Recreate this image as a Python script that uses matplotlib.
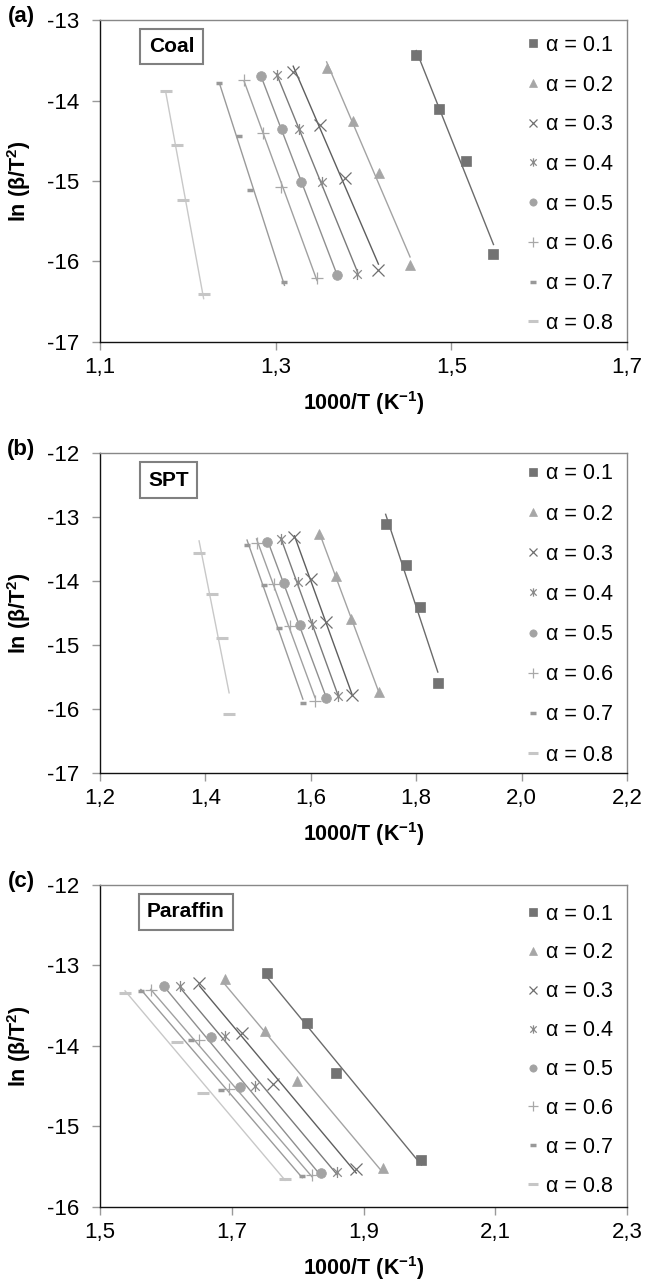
import matplotlib
matplotlib.use("Agg")
import matplotlib.pyplot as plt
import numpy as np
from matplotlib.path import Path
from matplotlib.lines import Line2D

plt.rcParams['font.family'] = ['Liberation Sans', 'DejaVu Sans']
plt.rcParams['axes.unicode_minus'] = False
plt.rcParams['mathtext.fontset'] = 'custom'
plt.rcParams['mathtext.rm'] = 'Liberation Sans'
plt.rcParams['mathtext.bf'] = 'Liberation Sans:bold'

##### DATA
alphas = ['0.1', '0.2', '0.3', '0.4', '0.5', '0.6', '0.7', '0.8']

# (a) coal
coal_x = [[1.460, 1.486, 1.517, 1.548],
          [1.358, 1.388, 1.418, 1.453],
          [1.320, 1.350, 1.379, 1.417],
          [1.301, 1.326, 1.353, 1.393],
          [1.283, 1.307, 1.329, 1.370],
          [1.264, 1.286, 1.306, 1.347],
          [1.236, 1.258, 1.271, 1.310],
          [1.175, 1.188, 1.194, 1.218]]
coal_y = [[-13.44, -14.10, -14.75, -15.91],
          [-13.60, -14.25, -14.90, -16.05],
          [-13.64, -14.30, -14.96, -16.11],
          [-13.68, -14.35, -15.01, -16.15],
          [-13.70, -14.35, -15.01, -16.17],
          [-13.74, -14.40, -15.07, -16.21],
          [-13.78, -14.44, -15.11, -16.26],
          [-13.88, -14.55, -15.24, -16.41]]

# (b) SPT
spt_x = [[1.742, 1.780, 1.807, 1.841],
         [1.616, 1.648, 1.677, 1.729],
         [1.569, 1.600, 1.629, 1.678],
         [1.543, 1.575, 1.602, 1.652],
         [1.517, 1.550, 1.579, 1.628],
         [1.497, 1.531, 1.561, 1.608],
         [1.479, 1.512, 1.540, 1.585],
         [1.388, 1.413, 1.432, 1.445]]
spt_y = [[-13.11, -13.75, -14.41, -15.59],
         [-13.26, -13.92, -14.59, -15.74],
         [-13.32, -13.97, -14.64, -15.78],
         [-13.35, -14.01, -14.67, -15.80],
         [-13.39, -14.03, -14.68, -15.82],
         [-13.41, -14.05, -14.70, -15.88],
         [-13.43, -14.07, -14.73, -15.90],
         [-13.56, -14.21, -14.89, -16.08]]

# (c) paraffin
par_x = [[1.754, 1.814, 1.859, 1.988],
         [1.689, 1.751, 1.799, 1.929],
         [1.651, 1.716, 1.762, 1.889],
         [1.621, 1.689, 1.736, 1.860],
         [1.597, 1.669, 1.713, 1.835],
         [1.577, 1.651, 1.696, 1.822],
         [1.562, 1.638, 1.683, 1.807],
         [1.538, 1.617, 1.657, 1.781]]
par_y = [[-13.09, -13.72, -14.34, -15.42],
         [-13.17, -13.81, -14.44, -15.51],
         [-13.22, -13.84, -14.47, -15.53],
         [-13.25, -13.88, -14.50, -15.56],
         [-13.26, -13.89, -14.51, -15.58],
         [-13.30, -13.92, -14.53, -15.60],
         [-13.32, -13.92, -14.55, -15.62],
         [-13.34, -13.95, -14.59, -15.65]]

##### STYLES
star = Path([(-1, -1), (1, 1), (-1, 1), (1, -1), (0, -1.3), (0, 1.3)],
            [Path.MOVETO, Path.LINETO, Path.MOVETO, Path.LINETO, Path.MOVETO, Path.LINETO])
markers = ['s', '^', 'x', star, 'o', '+', '_', '_']
msizes = [7, 7.5, 8, 8, 7, 9, 5, 9]
mews = [0.5, 0.5, 0.9, 0.9, 0.5, 0.9, 2.5, 2.2]
mcolors = ['#737373', '#a6a6a6', '#6f6f6f', '#8a8a8a', '#a3a3a3', '#a8a8a8', '#999999', '#c6c6c6']
lcolors = ['#6b6b6b', '#a3a3a3', '#5e5e5e', '#7a7a7a', '#8f8f8f', '#a0a0a0', '#9a9a9a', '#c8c8c8']

# tag, box text, x data, y data, xlim, xticks, ylim, yticks, top, bottom, box x, box y, legend y, legend spacing
panels = [
    ('(a)', 'Coal', coal_x, coal_y, (1.1, 1.7), [1.1, 1.3, 1.5, 1.7], (-17, -13), [-17, -16, -15, -14, -13],
     0.9844, 0.7339, 0.1357, 0.918, 0.981, 0.87),
    ('(b)', 'SPT', spt_x, spt_y, (1.2, 2.2), [1.2, 1.4, 1.6, 1.8, 2.0, 2.2], (-17, -12), [-17, -16, -15, -14, -13, -12],
     0.6475, 0.3984, 0.1296, 0.915, 0.994, 0.89),
    ('(c)', 'Paraffin', par_x, par_y, (1.5, 2.3), [1.5, 1.7, 1.9, 2.1, 2.3], (-16, -12), [-16, -15, -14, -13, -12],
     0.3113, 0.0607, 0.163, 0.917, 0.969, 0.83),
]

fig = plt.figure(figsize=(6.47, 12.85), dpi=100)
left, right = 100 / 647, 627 / 647

for tag, name, xs, ys, xlim, xt, ylim, yt, top, bot, bx, by, ly, ls in panels:
    ax = fig.add_axes([left, bot, right - left, top - bot])
    for i in range(len(alphas)):
        x = np.array(xs[i])
        y = np.array(ys[i])
        # linear trendline over the data range
        k, b = np.polyfit(x, y, 1)
        xf = np.array([x.min(), x.max()])
        ax.plot(xf, k * xf + b, color=lcolors[i], lw=1.0, zorder=2)
        ax.plot(x, y, ls='none', marker=markers[i], ms=msizes[i], mew=mews[i],
                color=mcolors[i], mec=mcolors[i], zorder=3)

    ax.set_xlim(*xlim)
    ax.set_ylim(*ylim)
    ax.set_xticks(xt)
    ax.set_xticklabels([('%.1f' % v).replace('.', ',') for v in xt])
    ax.set_yticks(yt)
    ax.set_yticklabels(['%d' % v for v in yt])
    ax.tick_params(labelsize=16, length=6, width=1, color='#999999')
    ax.tick_params(axis='y', pad=9)
    ax.tick_params(axis='x', pad=5)
    for s in ['left', 'bottom']:
        ax.spines[s].set_color('#111111')
        ax.spines[s].set_linewidth(1.0)
    for s in ['top', 'right']:
        ax.spines[s].set_color('#888888')
        ax.spines[s].set_linewidth(1.0)

    ax.set_xlabel(r'1000/T (K$^{\mathbf{-1}}$)', fontsize=15.5, fontweight='bold', labelpad=8)
    ax.set_ylabel(r'ln (β/T$^{\mathbf{2}}$)', fontsize=15.5, fontweight='bold', labelpad=10)

    ax.text(bx, by, name, transform=ax.transAxes, ha='center', va='center',
            fontsize=15, fontweight='bold',
            bbox=dict(boxstyle='square,pad=0.4', fc='white', ec='#808080', lw=1.5))

    handles = [Line2D([], [], ls='none', marker=markers[i], ms=msizes[i] * 0.75,
                      mew=mews[i], color=mcolors[i], mec=mcolors[i]) for i in range(len(alphas))]
    ax.legend(handles, ['α = ' + a for a in alphas], loc='upper right',
              bbox_to_anchor=(0.99, ly), frameon=False, fontsize=15.5,
              handlelength=0.6, handletextpad=0.3, labelspacing=ls,
              borderaxespad=0.2, borderpad=0.2)

    fig.text(21 / 647, top + 0.003, tag, fontsize=16, fontweight='bold', ha='center', va='center')

fig.savefig('out.png', dpi=100)
